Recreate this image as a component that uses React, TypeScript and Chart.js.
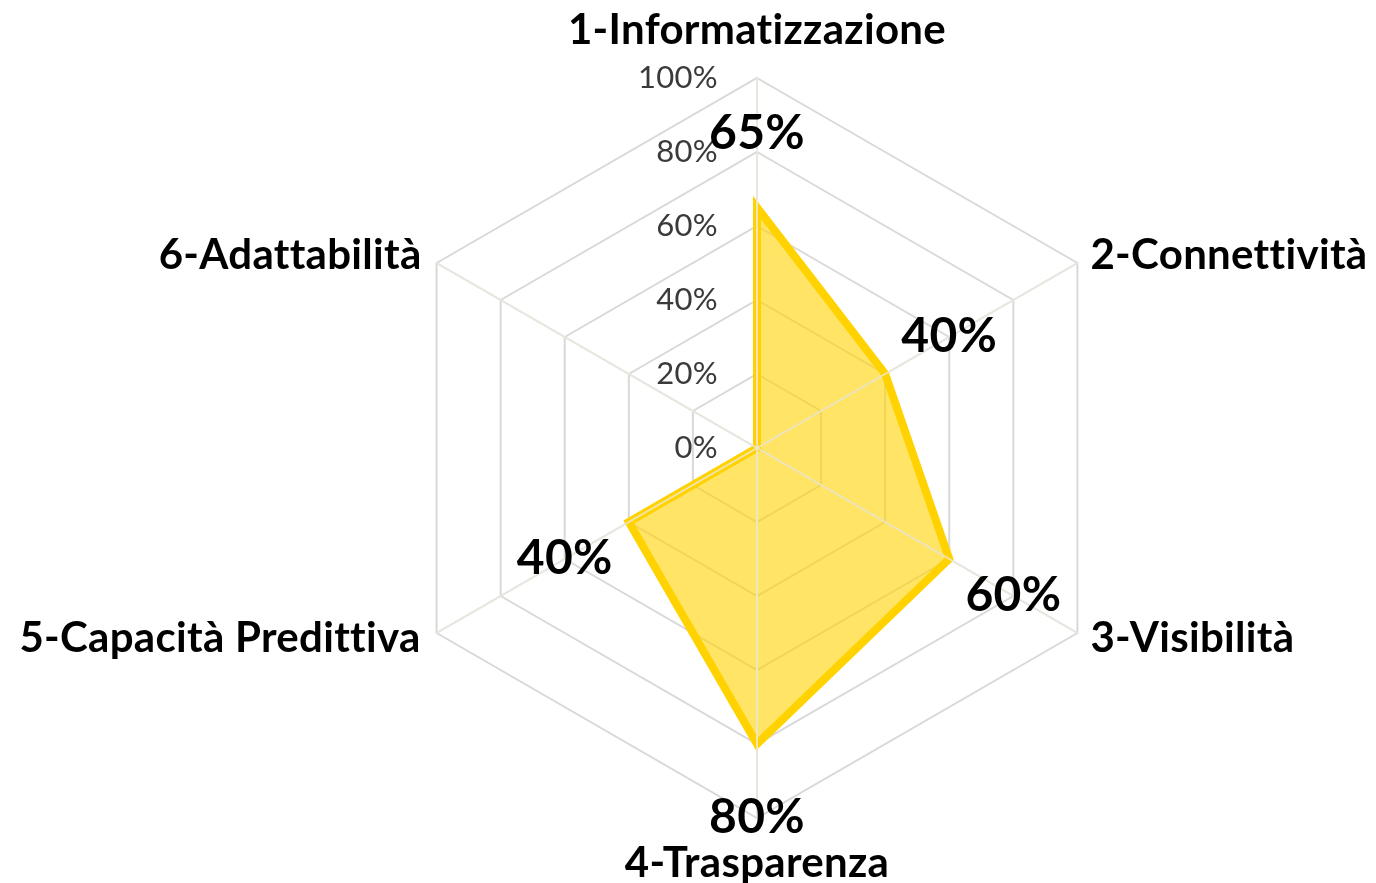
import React, { useEffect, useRef } from "react";
import { Chart, registerables } from "chart.js";

Chart.register(...registerables);

const categories = [
  "1-Informatizzazione",
  "2-Connettività",
  "3-Visibilità",
  "4-Trasparenza",
  "5-Capacità Predittiva",
  "6-Adattabilità",
];
const values = [65, 40, 60, 80, 40, 0];
const tickValues = [0, 20, 40, 60, 80, 100];
const tickLabels = ["0%", "20%", "40%", "60%", "80%", "100%"];

const FONT = "Lato, 'Open Sans', sans-serif";

const labelPlugin = {
  id: "customLabels",
  afterDatasetsDraw(chart: any) {
    const scale = chart.scales.r;
    const ctx = chart.ctx;
    const cx = scale.xCenter;
    const cy = scale.yCenter;
    ctx.save();
    // angle lines over the filled area
    ctx.strokeStyle = "rgba(236,234,222,0.8)";
    ctx.lineWidth = 2;
    for (let i = 0; i < categories.length; i++) {
      const p = scale.getPointPosition(i, scale.drawingArea);
      ctx.beginPath();
      ctx.moveTo(cx, cy);
      ctx.lineTo(p.x, p.y);
      ctx.stroke();
    }
    try {
      (ctx as any).letterSpacing = "0.3px";
    } catch (e) {}
    // tick labels
    ctx.fillStyle = "#3a3a3a";
    ctx.font = `31px ${FONT}`;
    ctx.textAlign = "right";
    ctx.textBaseline = "middle";
    tickValues.forEach((v, k) => {
      const d = scale.getDistanceFromCenterForValue(v);
      ctx.fillText(tickLabels[k], cx - 39, cy - d);
    });
    // category labels
    ctx.fillStyle = "#000000";
    ctx.font = `bold 42px ${FONT}`;
    const place = [
      { a: "center", dx: 0, dy: -48 },
      { a: "left", dx: 13, dy: -8 },
      { a: "left", dx: 13, dy: 5 },
      { a: "center", dx: 0, dy: 45 },
      { a: "right", dx: -16, dy: 5 },
      { a: "right", dx: -15, dy: -8 },
    ];
    categories.forEach((c, i) => {
      const p = scale.getPointPosition(i, scale.drawingArea);
      ctx.textAlign = place[i].a;
      ctx.fillText(c, p.x + place[i].dx, p.y + place[i].dy);
    });
    // data labels
    ctx.font = `bold 48px ${FONT}`;
    ctx.textAlign = "center";
    values.forEach((v, i) => {
      if (v <= 0) return;
      const p = scale.getPointPosition(i, scale.getDistanceFromCenterForValue(v) + 74);
      ctx.fillText(v + "%", p.x, p.y);
    });
    ctx.restore();
  },
};

export default function App() {
  const ref = useRef<HTMLCanvasElement | null>(null);
  useEffect(() => {
    document.body.style.margin = "0";
    const canvas = ref.current;
    if (!canvas) return;
    const chart = new Chart(canvas, {
      type: "radar",
      data: {
        labels: categories,
        datasets: [
          {
            data: values,
            backgroundColor: "rgba(255,210,0,0.6)",
            borderColor: "#FFD200",
            borderWidth: 8,
            pointRadius: 0,
            pointHoverRadius: 0,
            borderJoinStyle: "miter",
            tension: 0,
          },
        ],
      },
      options: {
        responsive: false,
        animation: false,
        devicePixelRatio: 1,
        layout: { padding: { left: 387, right: 249, top: 78, bottom: 65 } },
        plugins: { legend: { display: false }, tooltip: { enabled: false } },
        scales: {
          r: {
            min: 0,
            max: 100,
            ticks: { stepSize: 20, display: false },
            grid: { color: "#d9d9d9", lineWidth: 2 },
            angleLines: { color: "#d9d9d9", lineWidth: 2 },
            pointLabels: { display: false },
          },
        },
      },
      plugins: [labelPlugin],
    } as any);
    return () => chart.destroy();
  }, []);
  return (
    <div style={{ width: 1376, height: 883, background: "#fff" }}>
      <canvas ref={ref} width={1376} height={883} style={{ display: "block" }} />
    </div>
  );
}
